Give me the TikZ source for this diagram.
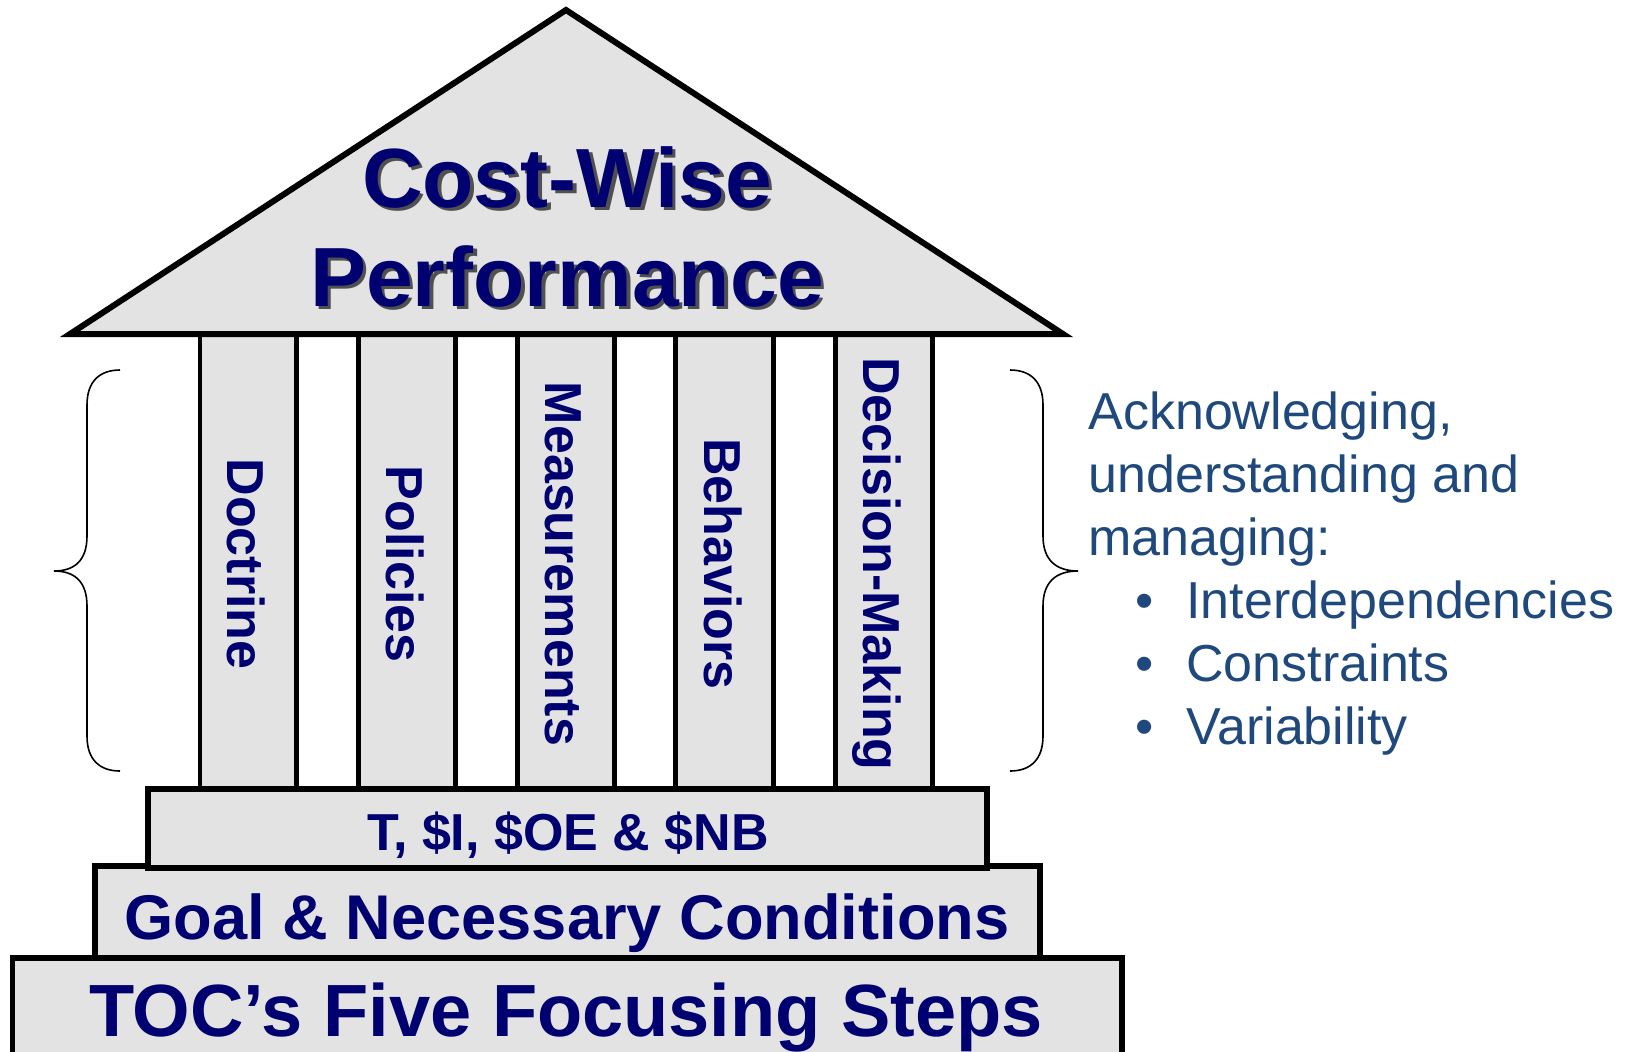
\documentclass[tikz,border=0pt]{standalone}
\usepackage{fontspec}
\setmainfont{Liberation Sans}
\definecolor{navytext}{HTML}{000070}
\definecolor{bluetext}{HTML}{1F497D}
\definecolor{fillgray}{HTML}{E3E3E3}
\definecolor{shadowgray}{HTML}{505050}
\newcommand{\shadowed}[1]{\rlap{\hspace*{1.8pt}\raisebox{-1.8pt}{\textcolor{shadowgray}{#1}}}\textcolor{navytext}{#1}}
\begin{document}
\begin{tikzpicture}[x=0.5pt,y=-0.5pt,
  part/.style={draw=black,line width=2.6pt,fill=fillgray},
  pillar/.style={draw=black,line width=2.4pt,fill=fillgray},
  plabel/.style={font=\fontsize{26}{26}\selectfont\bfseries,text=navytext,rotate=-90,anchor=base,inner sep=0pt},
  titletext/.style={font=\fontsize{42}{42}\selectfont\bfseries,anchor=base,inner sep=0pt},
  basetext/.style={font=\bfseries,text=navytext,anchor=base,inner sep=0pt},
  bracestyle/.style={draw=black,line width=0.8pt},
  side/.style={font=\fontsize{26}{26}\selectfont,text=bluetext,anchor=base west,inner sep=0pt}]
\useasboundingbox (0,0) rectangle (1634,1051);
% pillars
\foreach \a/\b in {200/296.7,358.5/455.3,517.7/614.5,675.6/773.8,835.5/932.3}
  \draw[pillar] (\a,330) rectangle (\b,789);
% roof
\draw[part,line width=3pt,line join=miter] (566,10) -- (1063,334) -- (70,334) -- cycle;
% base steps
\draw[part] (12.5,958) rectangle (1122,1075);
\draw[part] (95,866) rectangle (1040,958);
\draw[part] (148,789) rectangle (987,868);
% title
\node[titletext] (cw) at (567,207) {\shadowed{Cost-Wise}};
\node[titletext] (pf) at (567,306) {\shadowed{Performance}};
% pillar labels
\node[plabel] (doctrine) at (227,564) {Doctrine};
\node[plabel] (policies) at (386,564) {Policies};
\node[plabel] (measure) at (545,564) {Measurements};
\node[plabel] (behav) at (704,564) {Behaviors};
\node[plabel] (decision) at (863,564) {Decision-Making};
% base texts
\node[basetext,font=\fontsize{26}{26}\selectfont\bfseries] (tnb) at (568,850) {T, \$I, \$OE \& \$NB};
\node[basetext,font=\fontsize{31.6}{31.6}\selectfont\bfseries] (goal) at (567,939.5) {Goal \& Necessary Conditions};
\node[basetext,font=\fontsize{37}{37}\selectfont\bfseries] (toc) at (566,1036.5) {TOC’s Five Focusing Steps};
% braces
\draw[bracestyle] (120,370) .. controls (100,370) and (87,381) .. (87,405) -- (87,536)
  .. controls (87,560) and (75,571) .. (54,571)
  .. controls (75,571) and (87,582) .. (87,606) -- (87,736)
  .. controls (87,760) and (100,771) .. (120,771);
\draw[bracestyle] (1010,370) .. controls (1030,370) and (1043,381) .. (1043,405) -- (1043,536)
  .. controls (1043,560) and (1056,571) .. (1078,571)
  .. controls (1056,571) and (1043,582) .. (1043,606) -- (1043,736)
  .. controls (1043,760) and (1030,771) .. (1010,771);
% side text
\node[side] (ack) at (1088,429.5) {Acknowledging,};
\node[side] (und) at (1088,492.5) {understanding and};
\node[side] (man) at (1088,555.5) {managing:};
\node[side,anchor=base] (b1) at (1145,618.5) {•};
\node[side,anchor=base] (b2) at (1145,681.5) {•};
\node[side,anchor=base] (b3) at (1145,744.5) {•};
\node[side] (inter) at (1186,618.5) {Interdependencies};
\node[side] (cons) at (1186,681.5) {Constraints};
\node[side] (vari) at (1186,744.5) {Variability};
\end{tikzpicture}
\end{document}
